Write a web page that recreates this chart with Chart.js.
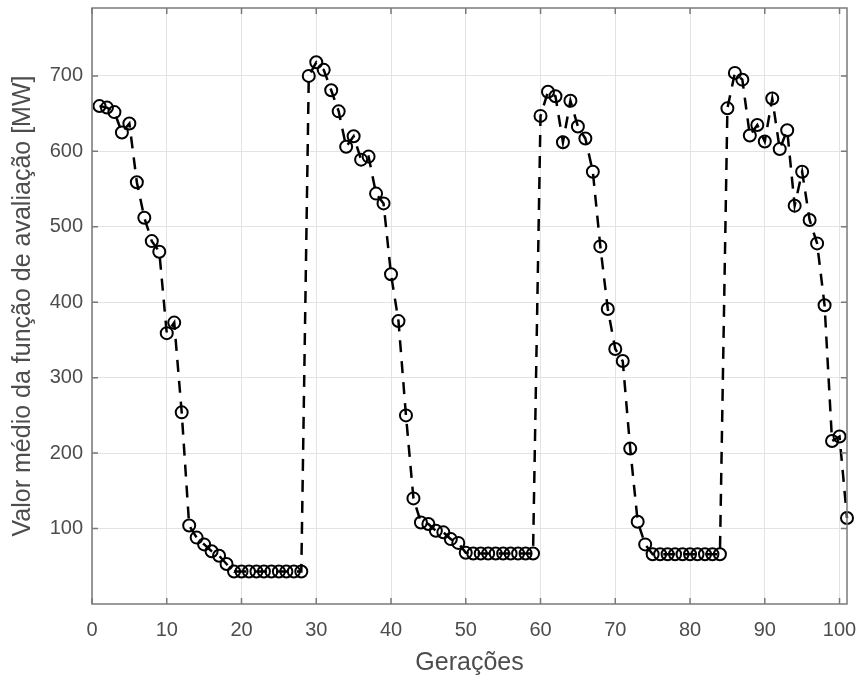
<!DOCTYPE html>
<html>
<head>
<meta charset="utf-8">
<script src="https://cdn.jsdelivr.net/npm/chart.js@4.4.1/dist/chart.umd.min.js"></script>
<style>
  html, body { margin: 0; padding: 0; background: #fff; }
</style>
</head>
<body>
<canvas id="c" width="861" height="680"></canvas>
<script>
// Mean fitness per generation (4 restarts of the GA)
const generations = [
  1, 2, 3, 4, 5, 6, 7, 8, 9, 10, 11, 12, 13, 14, 15, 16, 17, 18, 19, 20,
  21, 22, 23, 24, 25, 26, 27, 28, 29, 30, 31, 32, 33, 34, 35, 36, 37, 38, 39, 40,
  41, 42, 43, 44, 45, 46, 47, 48, 49, 50, 51, 52, 53, 54, 55, 56, 57, 58, 59, 60,
  61, 62, 63, 64, 65, 66, 67, 68, 69, 70, 71, 72, 73, 74, 75, 76, 77, 78, 79, 80,
  81, 82, 83, 84, 85, 86, 87, 88, 89, 90, 91, 92, 93, 94, 95, 96, 97, 98, 99, 100,
  101
];
const meanFitness = [
  // gen 1-28
  660, 658, 652, 625, 637, 559, 512, 481, 467, 359, 373, 254, 104, 88, 79, 70, 64, 53, 43, 43,
  43, 43, 43, 43, 43, 43, 43, 43,
  // gen 29-59
  700, 718, 708, 681, 653, 606, 620, 589, 593, 544, 531, 437, 375, 250, 140, 108, 106, 97, 95, 86,
  81, 68, 67, 67, 67, 67, 67, 67, 67, 67, 67,
  // gen 60-84
  647, 679, 673, 612, 667, 633, 617, 573, 474, 391, 338, 322, 206, 109, 79, 66, 66, 66, 66, 66,
  66, 66, 66, 66, 66,
  // gen 85-101
  657, 704, 695, 621, 635, 613, 670, 603, 628, 528, 573, 509, 478, 396, 216, 222, 114
];
const xTicks = [0, 10, 20, 30, 40, 50, 60, 70, 80, 90, 100];
const yTicks = [100, 200, 300, 400, 500, 600, 700];

const TEXT = '#4d4d4d';
const AXIS = '#7a7a7a';
const GRID = '#e3e3e3';
const FONT = "'Liberation Sans', Arial, Helvetica, sans-serif";

// MATLAB-style box with inward ticks on all four sides
const matlabBox = {
  id: 'matlabBox',
  afterDraw(chart) {
    const { ctx, chartArea: a, scales: { x, y } } = chart;
    const t = 6;
    ctx.save();
    ctx.strokeStyle = AXIS;
    ctx.lineWidth = 1.5;
    ctx.strokeRect(a.left, a.top, a.right - a.left, a.bottom - a.top);
    ctx.beginPath();
    xTicks.forEach(v => {
      const px = x.getPixelForValue(v);
      ctx.moveTo(px, a.bottom); ctx.lineTo(px, a.bottom - t);
      ctx.moveTo(px, a.top); ctx.lineTo(px, a.top + t);
    });
    yTicks.forEach(v => {
      const py = y.getPixelForValue(v);
      ctx.moveTo(a.left, py); ctx.lineTo(a.left + t, py);
      ctx.moveTo(a.right, py); ctx.lineTo(a.right - t, py);
    });
    ctx.stroke();
    ctx.restore();
  }
};

new Chart(document.getElementById('c'), {
  type: 'line',
  data: {
    datasets: [{
      data: generations.map((g, i) => ({ x: g, y: meanFitness[i] })),
      borderColor: '#000',
      borderWidth: 2.5,
      borderDash: [12, 9],
      pointStyle: 'circle',
      pointRadius: 6,
      pointBorderWidth: 2,
      pointBorderColor: '#000',
      pointBackgroundColor: 'rgba(0,0,0,0)',
      tension: 0,
      fill: false,
      clip: false,
    }]
  },
  options: {
    responsive: false,
    animation: false,
    layout: { padding: { top: 8, right: 14, left: 0, bottom: 0 } },
    plugins: { legend: { display: false }, tooltip: { enabled: false } },
    scales: {
      x: {
        type: 'linear', min: 0, max: 101,
        afterBuildTicks: s => { s.ticks = xTicks.map(v => ({ value: v })); },
        afterFit: s => { s.height = 76; s.paddingLeft = 0; s.paddingRight = 0; },
        grid: { color: GRID, lineWidth: 1, drawTicks: false },
        border: { display: false },
        ticks: { color: TEXT, padding: 14, maxRotation: 0, font: { family: FONT, size: 20 } },
        title: { display: true, text: 'Gerações', color: TEXT, padding: { top: 0, bottom: 2 },
                 font: { family: FONT, size: 25 } },
      },
      y: {
        type: 'linear', min: 0, max: 790,
        afterBuildTicks: s => { s.ticks = yTicks.map(v => ({ value: v })); },
        afterFit: s => { s.width = 92; s.paddingTop = 0; s.paddingBottom = 0; },
        grid: { color: GRID, lineWidth: 1, drawTicks: false },
        border: { display: false },
        ticks: { color: TEXT, padding: 9, font: { family: FONT, size: 20 } },
        title: { display: true, text: 'Valor médio da função de avaliação [MW]', color: TEXT,
                 padding: { top: 8, bottom: 0 }, font: { family: FONT, size: 25 } },
      }
    }
  },
  plugins: [matlabBox]
});
</script>
</body>
</html>
